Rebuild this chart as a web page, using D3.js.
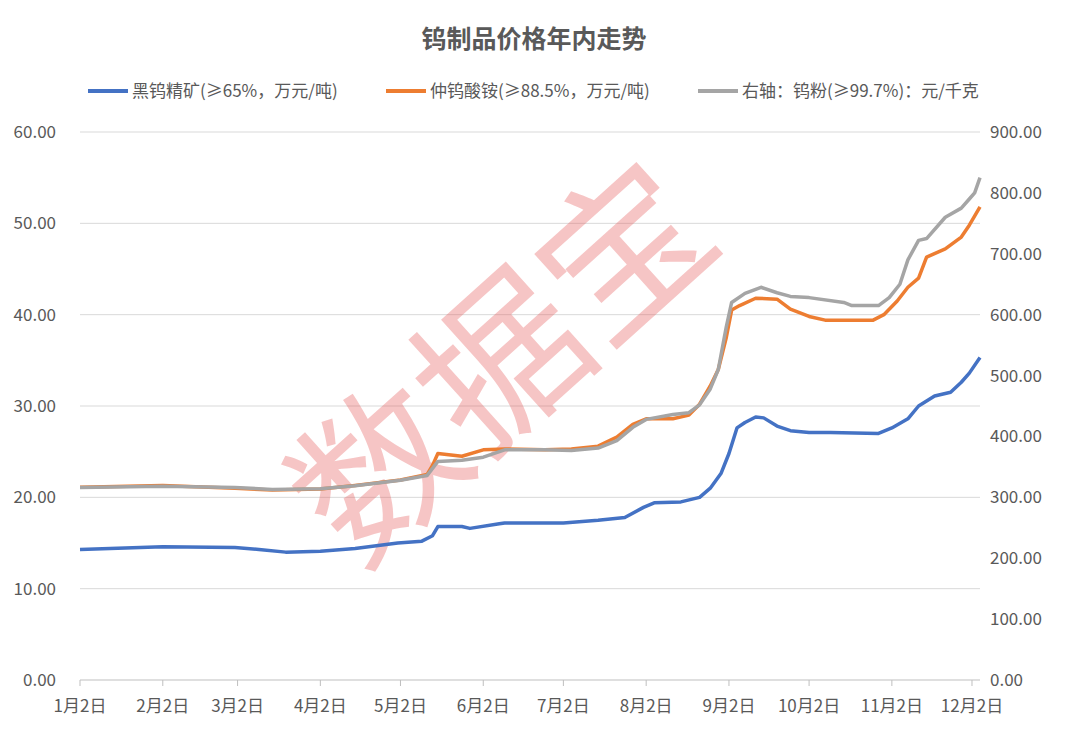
<!DOCTYPE html>
<html><head><meta charset="utf-8">
<script src="https://cdn.jsdelivr.net/npm/d3@7"></script>
<style>body{margin:0;background:#fff}text{font-family:"Noto Sans CJK SC","Noto Sans",sans-serif}</style>
</head><body><svg id="chart" width="1068" height="730"></svg>
<script>
// black tungsten concentrate, left axis
var blueDates = ['01-02','02-02','03-01','03-10','03-20','04-02','04-15','05-01','05-10','05-14','05-16','05-25','05-28','06-08','06-10','06-25','07-02','07-15','07-25','08-01','08-05','08-15','08-22','08-26','08-30','09-02','09-05','09-08','09-12','09-15','09-20','09-25','10-02','10-10','10-28','11-02','11-08','11-12','11-18','11-24','11-28','12-01','12-05'];
var blueVals = [14.3,14.6,14.5,14.3,14.0,14.1,14.4,15.0,15.2,15.8,16.8,16.8,16.6,17.1,17.2,17.2,17.2,17.5,17.8,18.9,19.4,19.5,20.0,21.0,22.6,24.8,27.6,28.2,28.8,28.7,27.8,27.3,27.1,27.1,27.0,27.6,28.6,30.0,31.1,31.5,32.6,33.6,35.3];
// APT, left axis
var orangeDates = ['01-02','02-02','03-01','03-15','04-02','04-15','05-02','05-12','05-14','05-16','05-25','06-02','06-10','06-25','07-05','07-15','07-22','07-28','08-02','08-12','08-18','08-22','08-26','08-29','09-01','09-03','09-06','09-12','09-20','09-25','10-02','10-08','10-26','10-30','11-04','11-08','11-12','11-15','11-22','11-28','12-01','12-05'];
var orangeVals = [21.1,21.3,21.0,20.8,20.9,21.3,21.9,22.5,23.5,24.8,24.5,25.2,25.3,25.2,25.3,25.6,26.6,28.0,28.6,28.6,29.0,30.2,32.2,34.0,37.5,40.5,41.0,41.8,41.7,40.6,39.8,39.4,39.4,40.0,41.5,43.0,44.0,46.3,47.2,48.5,49.8,51.8];
// tungsten powder, right axis
var grayDates = ['01-02','02-02','03-01','03-15','04-02','04-15','05-02','05-12','05-16','05-25','06-02','06-10','06-25','07-05','07-15','07-22','07-28','08-02','08-12','08-18','08-22','08-26','08-29','09-01','09-03','09-08','09-14','09-20','09-25','10-02','10-15','10-18','10-28','11-01','11-05','11-08','11-12','11-15','11-22','11-28','12-01','12-03','12-05'];
var grayVals = [316,318,316,313,314,319,328,336,359,361,366,378,378,377,381,393,415,428,436,439,452,478,510,580,620,635,645,636,630,628,620,615,615,628,650,690,722,725,760,775,790,800,825];
var leftTicks = [0,10,20,30,40,50,60];
var rightTicks = [0,100,200,300,400,500,600,700,800,900];
var xTickDates = ['01-02','02-02','03-02','04-02','05-02','06-02','07-02','08-02','09-02','10-02','11-02','12-02'];
var legendNames = ['黑钨精矿(≥65%，万元/吨)','仲钨酸铵(≥88.5%，万元/吨)','右轴：钨粉(≥99.7%)：元/千克'];
var colors = ['#4472c4','#ed7d31','#a5a5a5'];

var parse = d3.timeParse('%Y-%m-%d');
var pd = s => parse('2023-' + s);
var svg = d3.select('#chart');
var x = d3.scaleTime().domain([pd('01-02'), pd('12-05')]).range([80, 980]);
var yL = d3.scaleLinear().domain([0, 60]).range([680, 132]);
var yR = d3.scaleLinear().domain([0, 900]).range([680, 132]);

svg.append('text').attr('x', 534).attr('y', 48).attr('text-anchor', 'middle')
   .attr('font-size', 25).attr('font-weight', 'bold').attr('fill', '#595959').text('钨制品价格年内走势');

svg.append('g').selectAll('line').data(leftTicks.slice(1)).enter().append('line')
   .attr('x1', 80).attr('x2', 980).attr('y1', d => yL(d)).attr('y2', d => yL(d))
   .attr('stroke', '#d9d9d9');

svg.append('g').selectAll('text').data(leftTicks).enter().append('text')
   .attr('x', 56).attr('y', d => yL(d) + 6).attr('text-anchor', 'end').attr('font-size', 17).attr('fill', '#595959')
   .text(d => d.toFixed(2));
svg.append('g').selectAll('text').data(rightTicks).enter().append('text')
   .attr('x', 990).attr('y', d => yR(d) + 6).attr('font-size', 17).attr('fill', '#595959')
   .text(d => d.toFixed(2));

var xa = svg.append('g');
xa.append('line').attr('x1', 80).attr('x2', 980).attr('y1', 680).attr('y2', 680).attr('stroke', '#bfbfbf');
xa.selectAll('line.t').data(xTickDates).enter().append('line').attr('class', 't')
  .attr('x1', d => x(pd(d))).attr('x2', d => x(pd(d))).attr('y1', 680).attr('y2', 686).attr('stroke', '#bfbfbf');
xa.selectAll('text').data(xTickDates).enter().append('text')
  .attr('x', d => x(pd(d))).attr('y', 712).attr('text-anchor', 'middle').attr('font-size', 17).attr('fill', '#595959')
  .text(d => (+d.slice(0, 2)) + '月' + (+d.slice(3)) + '日');

// watermark
svg.append('text').attr('transform', 'translate(505,365) rotate(-42)').attr('text-anchor', 'middle')
   .attr('font-size', 165).attr('fill', 'rgba(230,90,90,0.35)').attr('dy', 55).text('数据宝');

function draw(dates, vals, y, c)
{
  var data = dates.map((d, i) => ({d: pd(d), v: vals[i]}));
  svg.append('path').datum(data).attr('fill', 'none').attr('stroke', c).attr('stroke-width', 3.5)
     .attr('stroke-linejoin', 'round')
     .attr('d', d3.line().x(p => x(p.d)).y(p => y(p.v)));
}
draw(orangeDates, orangeVals, yL, colors[1]);
draw(grayDates, grayVals, yR, colors[2]);
draw(blueDates, blueVals, yL, colors[0]);

var lx = [88, 386, 698];
var lg = svg.append('g').selectAll('g').data(legendNames).enter().append('g')
  .attr('transform', (d, i) => 'translate(' + lx[i] + ',91)');
lg.append('line').attr('x1', 0).attr('x2', 40).attr('stroke', (d, i) => colors[i]).attr('stroke-width', 4);
lg.append('text').attr('x', 44).attr('y', 6).attr('font-size', 17).attr('fill', '#595959').text(d => d);
</script></body></html>
